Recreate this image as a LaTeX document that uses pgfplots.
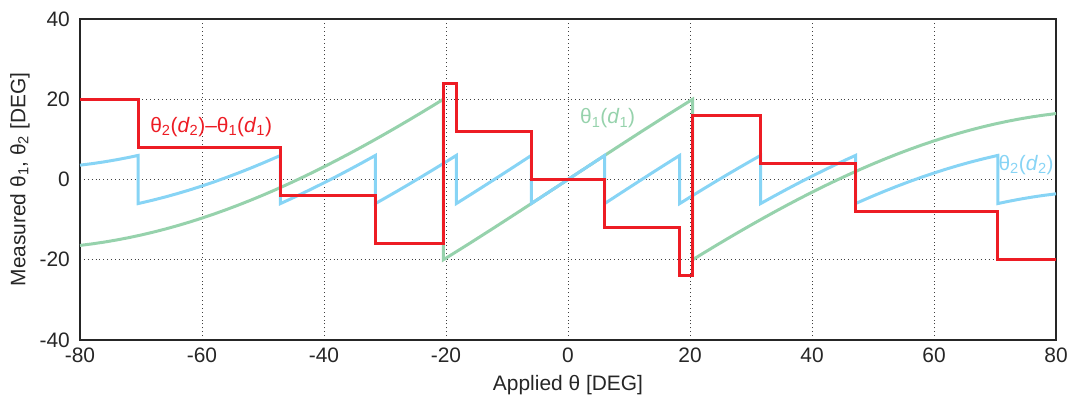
\documentclass[border=0pt]{standalone}
\usepackage{fontspec}
\setmainfont{Liberation Sans}
\usepackage{pgfplots}
\pgfplotsset{compat=1.18}
\definecolor{cred}{RGB}{237,28,36}
\definecolor{cblue}{RGB}{135,212,245}
\definecolor{cgreen}{RGB}{150,210,172}
\begin{document}
\fontsize{21}{24}\selectfont
\begin{tikzpicture}
\begin{axis}[
 scale only axis, width=976bp, height=321bp,
 xmin=-80,xmax=80,ymin=-40,ymax=40,
 xtick={-80,-60,...,80}, ytick={-40,-20,...,40},
 grid=major,
 major grid style={black!75, line width=0.9bp, dash pattern=on 0.9bp off 3bp},
 major tick length=0pt,
 axis line style={line width=2bp, black!85},
 /pgf/number format/assume math mode=true,
 ticklabel style={font=\fontsize{21}{24}\selectfont, black!85},
 xticklabel style={yshift=-1bp},
 yticklabel style={xshift=-3bp},
 label style={font=\fontsize{21}{24}\selectfont, black!85},
 xlabel={Applied θ [DEG]},
 ylabel={Measured θ\textsubscript{1}, θ\textsubscript{2} [DEG]},
 xlabel style={at={(axis description cs:0.5,0)}, anchor=center, yshift=-45bp},
 ylabel style={at={(axis description cs:-0.0615,0.5)}, anchor=center},
]
\coordinate (sw) at (rel axis cs:0,0);
\coordinate (ne) at (rel axis cs:1,1);
\addplot[cgreen, line width=3bp] coordinates {
(-80,-16.425)(-78,-16.044)(-76,-15.594)(-74,-15.076)(-72,-14.492)(-70,-13.841)(-68,-13.124)(-66,-12.343)(-64,-11.497)(-62,-10.589)(-60,-9.620)(-58,-8.590)(-56,-7.500)(-54,-6.353)(-52,-5.149)(-50,-3.891)(-48,-2.579)(-46,-1.215)(-44,0.199)(-42,1.662)(-40,3.171)(-38,4.725)(-36,6.323)(-34,7.961)(-32,9.638)(-30,11.352)(-28,13.101)(-26,14.883)(-24,16.696)(-22,18.537)(-20.430,20)
(-20.430,-20)(-20,-19.596)(-16,-15.793)(-12,-11.913)(-8,-7.974)(-4,-3.997)(0,0)(4,3.997)(8,7.974)(12,11.913)(16,15.793)(20,19.596)(20.430,20)
(20.430,-20)(22,-18.537)(24,-16.696)(26,-14.883)(28,-13.101)(30,-11.352)(32,-9.638)(34,-7.961)(36,-6.323)(38,-4.725)(40,-3.171)(42,-1.662)(44,-0.199)(46,1.215)(48,2.579)(50,3.891)(52,5.149)(54,6.353)(56,7.500)(58,8.590)(60,9.620)(62,10.589)(64,11.497)(66,12.343)(68,13.124)(70,13.841)(72,14.492)(74,15.076)(76,15.594)(78,16.044)(80,16.425)
};
\addplot[cblue, line width=3bp] coordinates {
(-80,3.575)(-78,3.956)(-76,4.406)(-74,4.924)(-72,5.508)(-70.468,6)(-70.468,-6)(-70,-5.841)(-68,-5.124)(-66,-4.343)(-64,-3.497)(-62,-2.589)(-60,-1.620)(-58,-0.590)(-56,0.500)(-54,1.647)(-52,2.851)(-50,4.109)(-48,5.421)(-47.139,6)
(-47.139,-6)(-46,-5.215)(-44,-3.801)(-42,-2.338)(-40,-0.829)(-38,0.725)(-36,2.323)(-34,3.961)(-32,5.638)(-31.574,6)
(-31.574,-6)(-30,-4.648)(-28,-2.899)(-26,-1.117)(-24,0.696)(-22,2.537)(-20,4.404)(-18.311,6)
(-18.311,-6)(-18,-5.705)(-16,-3.793)(-14,-1.861)(-12,0.087)(-10,2.051)(-8,4.026)(-6.011,6)
(-6.011,-6)(-4,-3.997)(-2,-2)(0,0)(2,2)(4,3.997)(6.011,6)
(6.011,-6)(8,-4.026)(10,-2.051)(12,-0.087)(14,1.861)(16,3.793)(18,5.705)(18.311,6)
(18.311,-6)(20,-4.404)(22,-2.537)(24,-0.696)(26,1.117)(28,2.899)(30,4.648)(31.574,6)
(31.574,-6)(32,-5.638)(34,-3.961)(36,-2.323)(38,-0.725)(40,0.829)(42,2.338)(44,3.801)(46,5.215)(47.139,6)
(47.139,-6)(48,-5.421)(50,-4.109)(52,-2.851)(54,-1.647)(56,-0.500)(58,0.590)(60,1.620)(62,2.589)(64,3.497)(66,4.343)(68,5.124)(70,5.841)(70.468,6)
(70.468,-6)(72,-5.508)(74,-4.924)(76,-4.406)(78,-3.956)(80,-3.575)
};
\addplot[cred, line width=3bp, const plot, line join=miter] coordinates {
(-80,20)(-70.468,8)(-47.139,-4)(-31.574,-16)(-20.430,24)(-18.311,12)(-6.011,0)(6.011,-12)(18.311,-24)(20.430,16)(31.574,4)(47.139,-8)(70.468,-20)(80,-20)
};
\node[cred, font=\fontsize{21}{24}\selectfont] at (axis cs:-58.5,13.0) {θ\textsubscript{2}(\textit{d}\textsubscript{2})–θ\textsubscript{1}(\textit{d}\textsubscript{1})};
\node[cgreen, font=\fontsize{21}{24}\selectfont] at (axis cs:6.5,15.2) {θ\textsubscript{1}(\textit{d}\textsubscript{1})};
\node[cblue, font=\fontsize{21}{24}\selectfont] at (axis cs:75.1,3.7) {θ\textsubscript{2}(\textit{d}\textsubscript{2})};
\end{axis}
\pgfresetboundingbox
\path ([shift={(-80bp,-56bp)}]sw) rectangle ([shift={(19bp,19bp)}]ne);
\end{tikzpicture}
\end{document}
